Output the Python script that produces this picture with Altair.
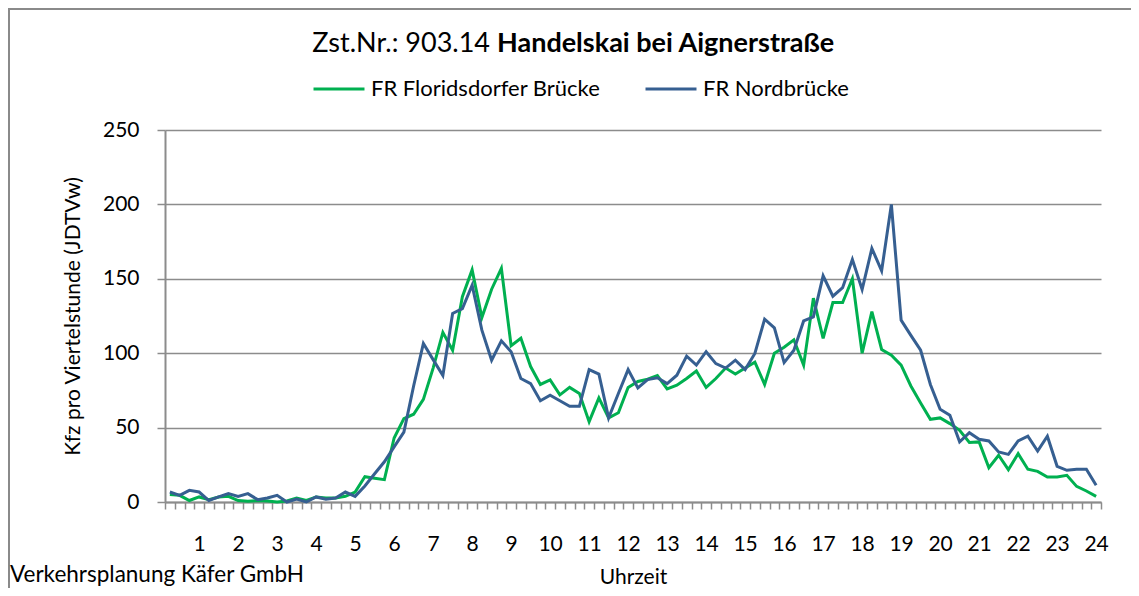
import altair as alt
import pandas as pd

FONT = "Lato"
GRAY = "#8C8C8C"

series_names = ["FR Floridsdorfer Brücke", "FR Nordbrücke"]
series_colors = ["#00B050", "#365F91"]

# quarter-hour index 0..95 (96 intervals of the day)
quarter_index = list(range(96))

floridsdorf = [
    5, 4.5, 1, 3.4, 1.6, 3.4, 3.8, 1, 0.5, 1, 0.7, 0, 0.7, 2.7, 1, 3.4,
    2.7, 2.7, 3.8, 6.7, 17, 16, 15, 43, 56, 59, 69, 90, 114, 102, 138, 156,
    124, 143, 157, 105, 110, 91, 79, 82, 72, 77, 73, 54, 70, 56.5, 60, 77,
    81, 82.5, 85, 76, 78.5, 83, 88, 77, 83, 90, 86, 90, 94, 79, 100, 104,
    109, 92, 137, 110, 134, 134, 150, 100, 128, 102.5, 98.7, 92, 78, 66.6, 55.6, 56.5,
    52.7, 48.2, 40, 40.4, 23, 31.4, 21.7, 32.5, 22, 20.6, 16.8, 16.8, 17.9, 10.5, 7.4, 3.8,
]

nordbruecke = [
    6.7, 4.5, 7.8, 6.7, 1, 3.4, 5.6, 3.8, 5.6, 1.6, 2.7, 4.5, 0, 2, 0, 3.4,
    1.8, 2.7, 6.7, 3.8, 10.8, 19, 27, 37, 47, 78, 106.5, 95.7, 85, 126.7, 130, 145.7,
    115.5, 95.3, 108.3, 101, 83, 79.6, 68, 71.7, 68, 64.3, 64.3, 89, 86, 56.5, 72.9, 89,
    76.7, 82.3, 83.5, 79.6, 85.2, 98, 92, 101, 93, 90, 95.3, 89, 99.8, 122.9, 117, 93.7,
    102, 121.7, 124.4, 152, 138.3, 144, 163, 142.8, 170.4, 155.4, 200, 122.2, 112, 102, 79, 62.3,
    58.3, 40.4, 46.6, 42.2, 41, 33.6, 32, 41, 44.2, 34.3, 44.2, 24, 21.3, 22, 22, 11.2,
]

y_ticks = [0, 50, 100, 150, 200, 250]
hour_label_positions = [4 * h - 1 for h in range(1, 25)]   # last quarter of each hour
category_boundaries = [i - 0.5 for i in range(97)]

df = pd.DataFrame({
    "idx": quarter_index * 2,
    "value": floridsdorf + nordbruecke,
    "series": [series_names[0]] * 96 + [series_names[1]] * 96,
})
one = pd.DataFrame({"a": [0]})

x_scale = alt.Scale(domain=[-0.5, 95.5], nice=False, zero=False)
y_enc = alt.Y(
    "value:Q",
    scale=alt.Scale(domain=[0, 250], nice=False),
    axis=alt.Axis(
        values=y_ticks, title="Kfz pro Viertelstunde (JDTVw)", grid=True,
        gridColor=GRAY, gridWidth=1.5, domainColor=GRAY, domainWidth=2,
        tickColor=GRAY, tickSize=8, tickWidth=1.5,
        labelFont=FONT, labelFontSize=21, labelColor="black", labelPadding=18,
        titleFont=FONT, titleFontSize=21, titleFontWeight="normal", titleColor="black",
        titlePadding=19,
    ),
)

lines = alt.Chart(df).mark_line(strokeWidth=3).encode(
    x=alt.X(
        "idx:Q", scale=x_scale,
        axis=alt.Axis(
            orient="bottom", values=hour_label_positions, labelExpr="(datum.value + 1) / 4",
            ticks=False, domain=False, grid=False, labelFlush=False,
            labelFont=FONT, labelFontSize=21, labelColor="black", labelPadding=31,
            title="Uhrzeit", titleFont=FONT, titleFontSize=21, titleFontWeight="normal",
            titleColor="black", titlePadding=12,
        ),
    ),
    y=y_enc,
    color=alt.Color(
        "series:N",
        scale=alt.Scale(domain=series_names, range=series_colors),
        legend=alt.Legend(
            title=None, orient="none", legendX=147, legendY=-68, direction="horizontal",
            symbolType="stroke", symbolSize=2600, symbolStrokeWidth=3,
            labelFont=FONT, labelFontSize=22, labelColor="black", labelOffset=5,
            labelLimit=0, columnPadding=38,
        ),
    ),
    order=alt.Order("idx:Q"),
)

tick_layer = alt.Chart(df).mark_point(opacity=0).encode(
    x=alt.X(
        "idx:Q", scale=x_scale,
        axis=alt.Axis(
            orient="bottom", values=category_boundaries, labels=False, ticks=True,
            tickSize=7, tickColor=GRAY, tickWidth=1.5, domain=True, domainColor=GRAY,
            domainWidth=2, grid=False, title=None,
        ),
    ),
    y=alt.Y("value:Q", scale=alt.Scale(domain=[0, 250], nice=False)),
)

title_a = alt.Chart(one).mark_text(
    text="Zst.Nr.: 903.14", align="right", baseline="middle", font=FONT,
    fontSize=27, color="black",
).encode(x=alt.value(325), y=alt.value(-86))

title_b = alt.Chart(one).mark_text(
    text="Handelskai bei Aignerstraße", align="left", baseline="middle", font=FONT,
    fontSize=27, fontWeight="bold", color="black",
).encode(x=alt.value(332), y=alt.value(-86))

footer = alt.Chart(one).mark_text(
    text="Verkehrsplanung Käfer GmbH", align="left", baseline="middle", font=FONT,
    fontSize=22.5, color="black",
).encode(x=alt.value(-155), y=alt.value(445))

# outer frame of the chart (top and left edges are visible)
frame_top = alt.Chart(one).mark_rule(stroke="#8A8A8A", strokeWidth=2).encode(
    x=alt.value(-157), x2=alt.value(980), y=alt.value(-121)
)
frame_left = alt.Chart(one).mark_rule(stroke="#8A8A8A", strokeWidth=2).encode(
    x=alt.value(-156), y=alt.value(-122), y2=alt.value(480)
)

chart = alt.layer(frame_top, frame_left, tick_layer, lines, title_a, title_b, footer).resolve_scale(
    x="independent"
).resolve_axis(x="independent").properties(
    width=936, height=372,
    padding={"left": 157, "top": 122, "right": 30, "bottom": 86},
    autosize=alt.AutoSizeParams(type="none"),
    background="white",
).configure_view(stroke=None)

chart.save("out.html", embed_options={"renderer": "svg", "actions": False})
